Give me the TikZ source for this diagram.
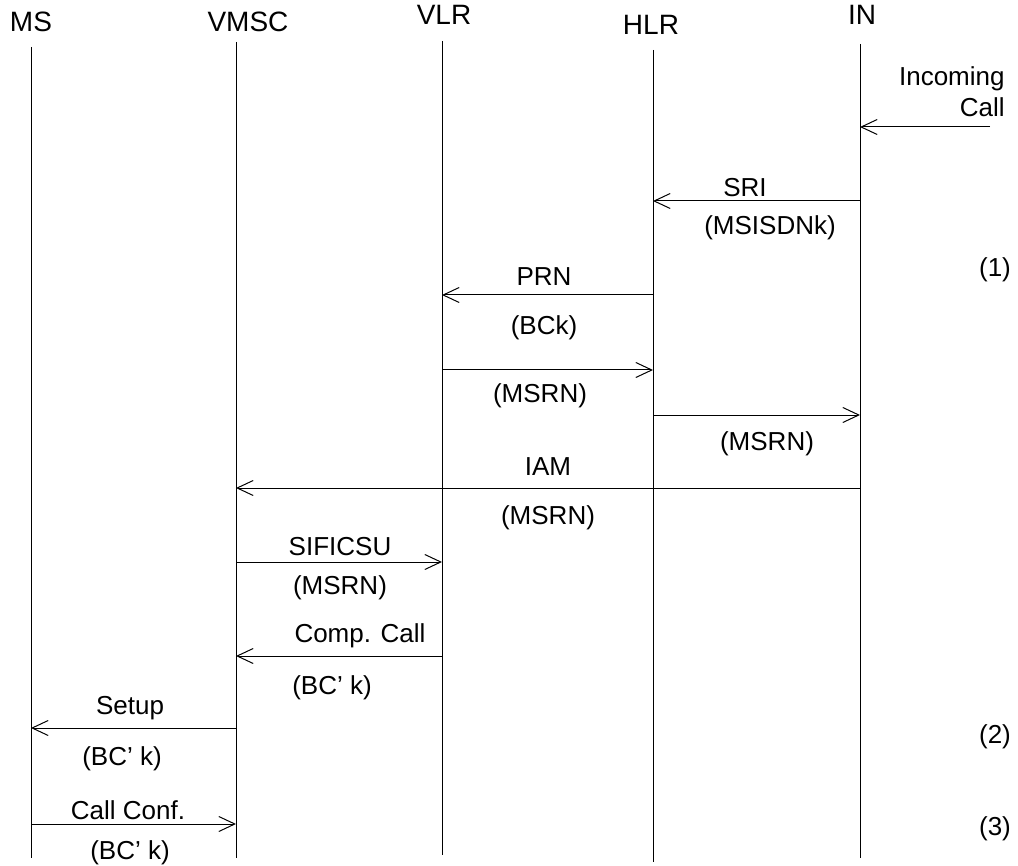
\documentclass[tikz,border=0pt]{standalone}
\usepackage{fontspec}
\setmainfont{Liberation Sans}
\usetikzlibrary{arrows.meta}

\begin{document}
\begin{tikzpicture}[x=0.5pt, y=-0.5pt,
    head/.style={font=\fontsize{14}{16}\selectfont, inner sep=0pt},
    lbl/.style={font=\fontsize{13}{15.5}\selectfont, inner sep=0pt},
    life/.style={line width=0.5pt},
    msg/.style={line width=0.5pt, -{Straight Barb[length=8pt, width=7.5pt, line width=0.5pt]}}]
    \useasboundingbox (0,0) rectangle (1018,866);

    % entities
    \node[head] (MS) at (31,22) {MS};
    \node[head] (VMSC) at (248,22) {VMSC};
    \node[head] (VLR) at (444,15) {VLR};
    \node[head] (HLR) at (651,25) {HLR};
    \node[head] (IN) at (862,15) {IN};

    % lifelines
    \coordinate (ms) at (31,47);    \coordinate (ms-end) at (31,858);
    \coordinate (vmsc) at (236,42); \coordinate (vmsc-end) at (236,858);
    \coordinate (vlr) at (442,41);  \coordinate (vlr-end) at (442,855);
    \coordinate (hlr) at (653,50);  \coordinate (hlr-end) at (653,862);
    \coordinate (in) at (860,44);   \coordinate (in-end) at (860,858);
    \draw[life] (ms) -- (ms-end);
    \draw[life] (vmsc) -- (vmsc-end);
    \draw[life] (vlr) -- (vlr-end);
    \draw[life] (hlr) -- (hlr-end);
    \draw[life] (in) -- (in-end);

    % messages
    \coordinate (call) at (990,127);
    \node[lbl, anchor=east, align=right] (incoming) at (1005,92) {Incoming\\Call};
    \draw[msg] (call) -- (in |- call);

    \draw[msg] (in |- 0,201) -- (hlr |- 0,201);
    \node[lbl] (sri) at (745,188) {SRI};
    \node[lbl] (sri-p) at (770,228) {(MSISDNk)};
    \node[lbl] (step1) at (995,270) {(1)};

    \draw[msg] (hlr |- 0,295) -- (vlr |- 0,295);
    \node[lbl] (prn) at (544,277) {PRN};
    \node[lbl] (prn-p) at (544,328) {(BCk)};

    \draw[msg] (vlr |- 0,370) -- (hlr |- 0,370);
    \node[lbl] (prn-r) at (540,396) {(MSRN)};

    \draw[msg] (hlr |- 0,415) -- (in |- 0,415);
    \node[lbl] (sri-r) at (767,444) {(MSRN)};

    \draw[msg] (in |- 0,488) -- (vmsc |- 0,488);
    \node[lbl] (iam) at (548,467) {IAM};
    \node[lbl] (iam-p) at (548,518) {(MSRN)};

    \draw[msg] (vmsc |- 0,562) -- (vlr |- 0,562);
    \node[lbl] (sif) at (340,547) {SIFICSU};
    \node[lbl] (sif-p) at (340,588) {(MSRN)};

    \draw[msg] (vlr |- 0,656) -- (vmsc |- 0,656);
    \node[lbl] (comp) at (360,636) {Comp. Call};
    \node[lbl] (comp-p) at (332,688) {(BC' k)};

    \draw[msg] (vmsc |- 0,728) -- (ms |- 0,728);
    \node[lbl] (setup) at (130,708) {Setup};
    \node[lbl] (setup-p) at (122,759) {(BC' k)};
    \node[lbl] (step2) at (995,737) {(2)};

    \draw[msg] (ms |- 0,824) -- (vmsc |- 0,824);
    \node[lbl] (conf) at (128,810) {Call Conf.};
    \node[lbl] (conf-p) at (130,853) {(BC' k)};
    \node[lbl] (step3) at (995,829) {(3)};
\end{tikzpicture}
\end{document}
